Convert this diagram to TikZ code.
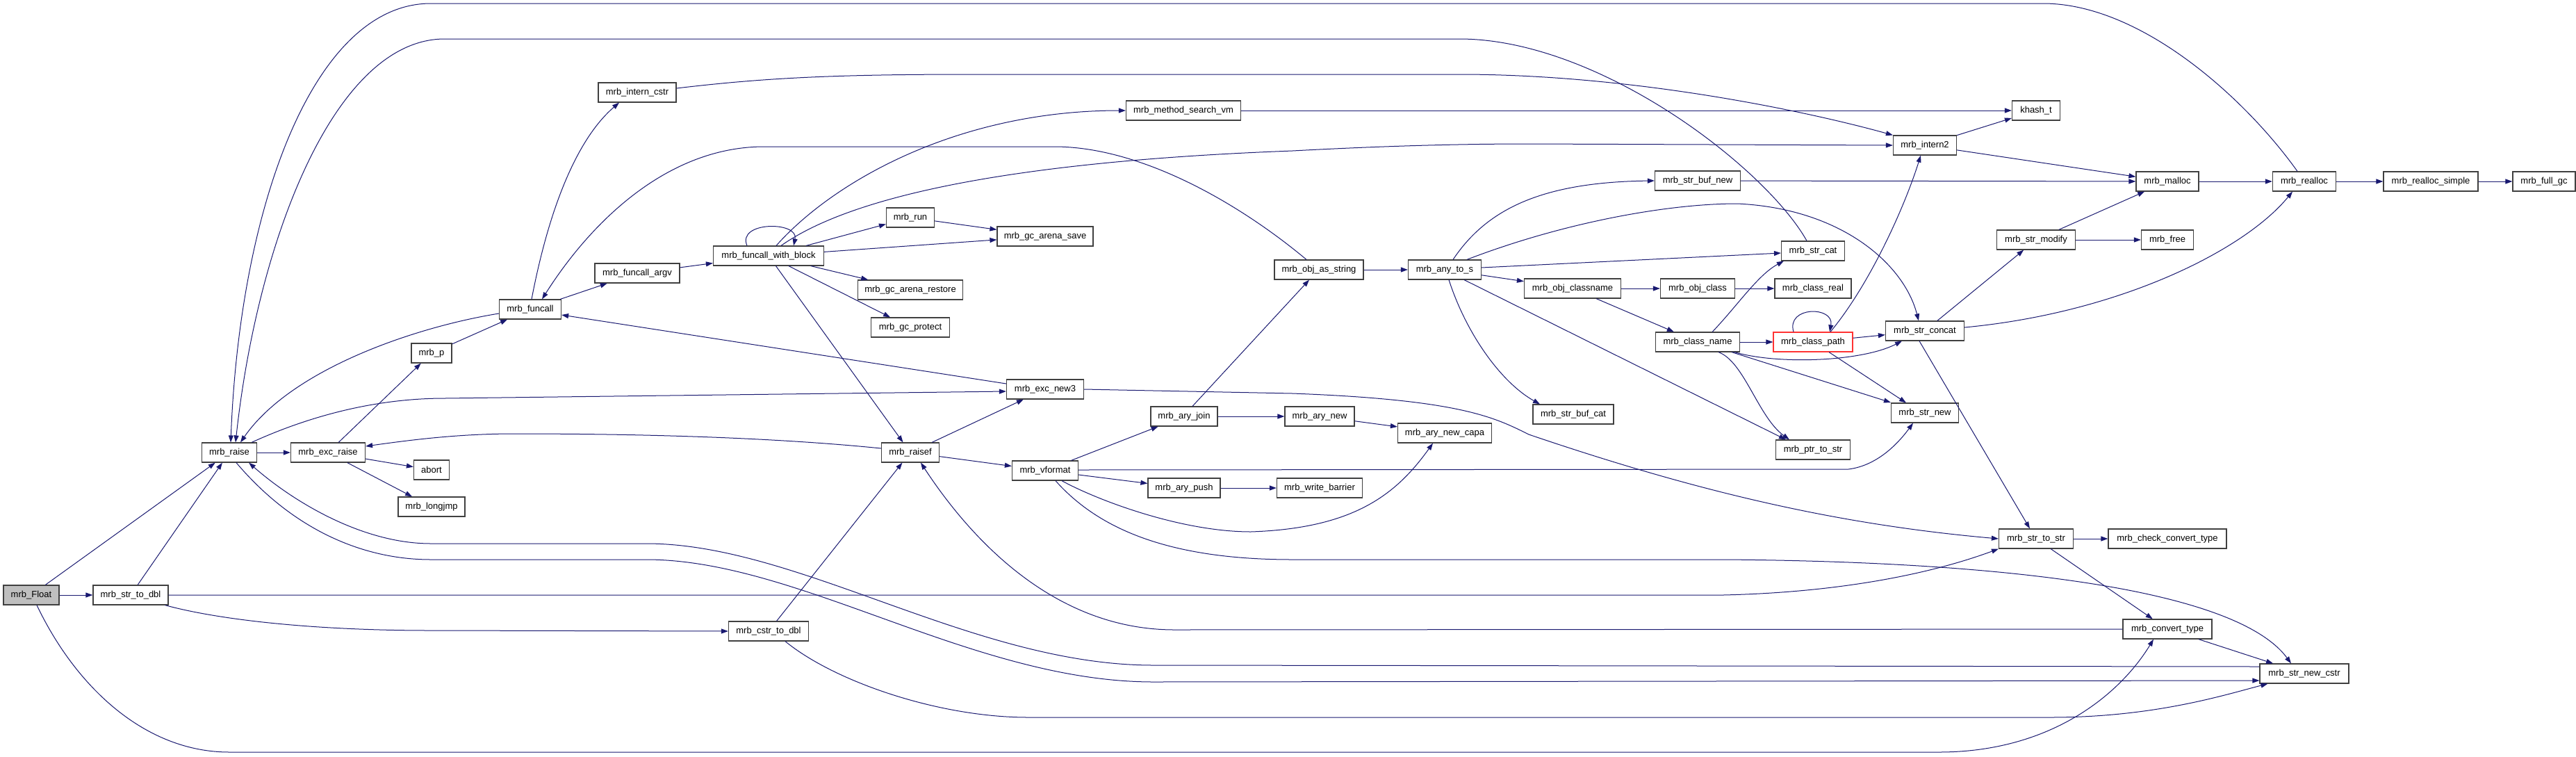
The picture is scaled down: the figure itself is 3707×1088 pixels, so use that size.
\documentclass[tikz,border=0pt]{standalone}
\usepackage{fontspec}
\newfontfamily\nf{Liberation Sans}
\usetikzlibrary{arrows.meta,calc}
\definecolor{eb}{HTML}{191970}
\definecolor{nb}{HTML}{404040}
\definecolor{gf}{HTML}{BFBFBF}
\definecolor{rb}{HTML}{FF3333}
\begin{document}
\begin{tikzpicture}[x=1pt,y=-1pt,
  fn/.style={draw=nb, line width=1.2pt, fill=white, minimum height=28pt, inner xsep=2pt, inner ysep=0pt, font=\nf\fontsize{13}{15}\selectfont, text=black},
  e/.style={draw=eb, line width=1pt, -{Triangle[length=10pt,width=7pt]}, fill=none},
  cur/.style={fill=gf},
  redb/.style={draw=rb}]
\useasboundingbox (0,0) rectangle (3707,1088);
% nodes
\node[fn,cur,minimum width=80pt] (Float) at (45,856) {mrb\_Float};
\node[fn,minimum width=108pt] (strtodbl) at (188,856) {mrb\_str\_to\_dbl};
\node[fn,minimum width=79pt] (raise) at (330,651) {mrb\_raise};
\node[fn,minimum width=107pt] (excraise) at (472,651) {mrb\_exc\_raise};
\node[fn,minimum width=51pt] (abort) at (621,676) {abort};
\node[fn,minimum width=96pt] (longjmp) at (621,729) {mrb\_longjmp};
\node[fn,minimum width=58pt] (p) at (621,508) {mrb\_p};
\node[fn,minimum width=89pt] (funcall) at (763,445) {mrb\_funcall};
\node[fn,minimum width=112pt] (interncstr) at (917,133) {mrb\_intern\_cstr};
\node[fn,minimum width=122pt] (funcallargv) at (917,393) {mrb\_funcall\_argv};
\node[fn,minimum width=159pt] (fwb) at (1106,368) {mrb\_funcall\_with\_block};
\node[fn,minimum width=115pt] (cstrtodbl) at (1106,908) {mrb\_cstr\_to\_dbl};
\node[fn,minimum width=69pt] (run) at (1310,313) {mrb\_run};
\node[fn,minimum width=151pt] (gcrestore) at (1310,417) {mrb\_gc\_arena\_restore};
\node[fn,minimum width=113pt] (gcprotect) at (1310,471) {mrb\_gc\_protect};
\node[fn,minimum width=83pt] (raisef) at (1310,651) {mrb\_raisef};
\node[fn,minimum width=138pt] (gcsave) at (1504,340) {mrb\_gc\_arena\_save};
\node[fn,minimum width=111pt] (excnew3) at (1504,560) {mrb\_exc\_new3};
\node[fn,minimum width=95pt] (vformat) at (1504,677) {mrb\_vformat};
\node[fn,minimum width=165pt] (msvm) at (1703,159) {mrb\_method\_search\_vm};
\node[fn,minimum width=96pt] (aryjoin) at (1704,599) {mrb\_ary\_join};
\node[fn,minimum width=104pt] (arypush) at (1704,702) {mrb\_ary\_push};
\node[fn,minimum width=128pt] (objasstring) at (1898,388) {mrb\_obj\_as\_string};
\node[fn,minimum width=100pt] (arynew) at (1899,599) {mrb\_ary\_new};
\node[fn,minimum width=123pt] (wb) at (1899,702) {mrb\_write\_barrier};
\node[fn,minimum width=105pt] (anytos) at (2079,388) {mrb\_any\_to\_s};
\node[fn,minimum width=135pt] (arynewcapa) at (2079,623) {mrb\_ary\_new\_capa};
\node[fn,minimum width=139pt] (objclassname) at (2263,415) {mrb\_obj\_classname};
\node[fn,minimum width=116pt] (strbufcat) at (2264,596) {mrb\_str\_buf\_cat};
\node[fn,minimum width=123pt] (strbufnew) at (2443,260) {mrb\_str\_buf\_new};
\node[fn,minimum width=107pt] (objclass) at (2443,415) {mrb\_obj\_class};
\node[fn,minimum width=121pt] (classname) at (2443,492) {mrb\_class\_name};
\node[fn,minimum width=91pt] (strcat) at (2609,361) {mrb\_str\_cat};
\node[fn,minimum width=110pt] (classreal) at (2609,415) {mrb\_class\_real};
\node[fn,redb,minimum width=114pt] (classpath) at (2609,492) {mrb\_class\_path};
\node[fn,minimum width=107pt] (ptrtostr) at (2609,647) {mrb\_ptr\_to\_str};
\node[fn,minimum width=91pt] (intern2) at (2770,209) {mrb\_intern2};
\node[fn,minimum width=113pt] (strconcat) at (2770,476) {mrb\_str\_concat};
\node[fn,minimum width=97pt] (strnew) at (2770,594) {mrb\_str\_new};
\node[fn,minimum width=69pt] (khash) at (2930,159) {khash\_t};
\node[fn,minimum width=113pt] (strmodify) at (2930,345) {mrb\_str\_modify};
\node[fn,minimum width=107pt] (strtostr) at (2930,775) {mrb\_str\_to\_str};
\node[fn,minimum width=90pt] (malloc) at (3119,261) {mrb\_malloc};
\node[fn,minimum width=75pt] (free) at (3119,345) {mrb\_free};
\node[fn,minimum width=170pt] (checkconv) at (3119,775) {mrb\_check\_convert\_type};
\node[fn,minimum width=128pt] (convtype) at (3119,905) {mrb\_convert\_type};
\node[fn,minimum width=91pt] (realloc) at (3316,261) {mrb\_realloc};
\node[fn,minimum width=128pt] (strnewcstr) at (3316,969) {mrb\_str\_new\_cstr};
\node[fn,minimum width=136pt] (reallocsimple) at (3498,261) {mrb\_realloc\_simple};
\node[fn,minimum width=90pt] (fullgc) at (3661,261) {mrb\_full\_gc};
% straight edges
\draw[e] (Float) -- (raise);
\draw[e] (Float) -- (strtodbl);
\draw[e] (strtodbl) -- (raise);
\draw[e] (raise) -- (excraise);
\draw[e] (excraise) -- (abort);
\draw[e] (excraise) -- (longjmp);
\draw[e] (excraise) -- (p);
\draw[e] (p) -- (funcall);
\draw[e] (funcall) -- (funcallargv);
\draw[e] (funcallargv) -- (fwb);
\draw[e] (fwb) -- (run);
\draw[e] (fwb) -- (gcsave);
\draw[e] (fwb) -- (gcrestore);
\draw[e] (fwb) -- (gcprotect);
\draw[e] (fwb) -- (raisef);
\draw[e] (run) -- (gcsave);
\draw[e] (cstrtodbl) -- (raisef);
\draw[e] (raisef) -- (excnew3);
\draw[e] (raisef) -- (vformat);
\draw[e] (vformat) -- (aryjoin);
\draw[e] (vformat) -- (arypush);
\draw[e] (aryjoin) -- (arynew);
\draw[e] (arypush) -- (wb);
\draw[e] (arynew) -- (arynewcapa);
\draw[e] (objasstring) -- (anytos);
\draw[e] (anytos) -- (objclassname);
\draw[e] (objclassname) -- (objclass);
\draw[e] (objclassname) -- (classname);
\draw[e] (objclass) -- (classreal);
\draw[e] (classname) -- (classpath);
\draw[e] (classpath) -- (strconcat);
\draw[e] (intern2) -- (khash);
\draw[e] (intern2) -- (malloc);
\draw[e] (strbufnew) -- (malloc);
\draw[e] (strmodify) -- (malloc);
\draw[e] (strmodify) -- (free);
\draw[e] (strconcat) -- (strmodify);
\draw[e] (malloc) -- (realloc);
\draw[e] (realloc) -- (reallocsimple);
\draw[e] (reallocsimple) -- (fullgc);
\draw[e] (strtostr) -- (checkconv);
\draw[e] (strtostr) -- (convtype);
\draw[e] (convtype) -- (strnewcstr);
\draw[e] (msvm) -- (khash);
\draw[e] ($(excnew3.west)+(0,-8)$) -- ($(funcall.east)+(0,8)$);
\draw[e] ($(aryjoin.north)+(12,0)$) -- ($(objasstring.south)+(-14,0)$);
\draw[e] ($(anytos.east)+(0,-3)$) -- ($(strcat.west)+(0,3)$);
\draw[e] ($(anytos.south)+(28,0)$) -- ($(ptrtostr.north west)+(15,0)$);
\draw[e] ($(classname.south east)+(-12,0)$) -- ($(strnew.west)+(0,-15)$);
\draw[e] ($(classpath.south)+(23,0)$) -- ($(strnew.north)+(-27,0)$);
\draw[e] ($(strconcat.south)+(-8,0)$) -- ($(strtostr.north)+(-9,0)$);
% curved edges
\draw[e] ($(Float.south)+(8,0)$) .. controls (110,990) and (210,1082) .. (330,1082) -- (2790,1082) .. controls (2950,1082) and (3050,1000) .. ($(convtype.south)+(-20,0)$);
\draw[e] (strtodbl.east) -- (2480,856) .. controls (2650,852) and (2780,825) .. (strtostr.south west);
\draw[e] ($(strtodbl.south east)+(-5,0)$) .. controls (320,893) and (460,907) .. (620,907) -- (cstrtodbl.west);
\draw[e] ($(raise.north east)+(-8,0)$) .. controls (420,610) and (520,573) .. (640,573) -- ($(excnew3.west)+(0,3)$);
\draw[e] ($(raise.south)+(10,0)$) .. controls (420,760) and (520,805) .. (620,805) -- (930,805) .. controls (1150,805) and (1400,981) .. (1660,981) -- ($(strnewcstr.west)+(0,10)$);
\draw[e] ($(strnewcstr.west)+(0,-10)$) -- (1660,957) .. controls (1400,957) and (1150,782) .. (930,782) -- (620,782) .. controls (520,782) and (420,720) .. ($(raise.south east)+(-12,0)$);
\draw[e] ($(funcall.west)+(0,6)$) .. controls (600,470) and (420,530) .. ($(raise.north)+(16,0)$);
\draw[e] ($(realloc.north)+(-10,0)$) .. controls (3230,140) and (3080,5) .. (2940,5) -- (620,5) .. controls (450,5) and (345,300) .. ($(raise.north)+(2,0)$);
\draw[e] ($(strcat.north)+(-9,0)$) .. controls (2540,240) and (2300,56) .. (2100,56) -- (640,56) .. controls (480,56) and (370,350) .. ($(raise.north)+(9,0)$);
\draw[e] ($(funcall.north)+(2,0)$) .. controls (790,300) and (830,200) .. ($(interncstr.south)+(-26,0)$);
\draw[e] ($(objasstring.north)+(-18,0)$) .. controls (1780,290) and (1640,211) .. (1517,211) -- (1100,211) .. controls (960,211) and (850,320) .. ($(funcall.north)+(17,0)$);
\draw[e] ($(fwb.north)+(11,0)$) .. controls (1200,260) and (1380,159) .. (msvm.west);
\draw[e] ($(fwb.north)+(18,0)$) .. controls (1200,300) and (1380,235) .. (1860,217) .. controls (1990,210) and (2100,207) .. (2200,207) -- (intern2.west);
\draw[e] ($(interncstr.east)+(0,-6)$) .. controls (1100,112) and (1200,107) .. (1400,107) -- (2100,107) .. controls (2350,107) and (2600,160) .. (intern2.north west);
\draw[e] (excnew3.east) -- (1860,566) .. controls (2100,575) and (2150,600) .. (2200,625) .. controls (2450,710) and (2650,755) .. (strtostr.west);
\draw[e] ($(raisef.west)+(0,-6)$) .. controls (1100,628) and (900,624) .. (740,624) .. controls (660,624) and (590,633) .. ($(excraise.east)+(0,-9)$);
\draw[e] ($(vformat.south)+(24,0)$) .. controls (1580,720) and (1700,765) .. (1800,765) .. controls (1950,760) and (2010,710) .. ($(arynewcapa.south)+(-17,0)$);
\draw[e] ($(vformat.south)+(15,0)$) .. controls (1580,760) and (1680,805) .. (1860,805) -- (2480,805) .. controls (2900,808) and (3220,850) .. ($(strnewcstr.north)+(-19,0)$);
\draw[e] ($(vformat.east)+(0,-1)$) -- (2660,675) .. controls (2700,670) and (2730,640) .. ($(strnew.south)+(-17,0)$);
\draw[e] ($(anytos.north)+(12,0)$) .. controls (2140,300) and (2220,262) .. (strbufnew.west);
\draw[e] ($(anytos.north)+(32,0)$) .. controls (2250,320) and (2400,293) .. (2500,293) .. controls (2650,300) and (2740,380) .. ($(strconcat.north)+(-9,0)$);
\draw[e] ($(anytos.south)+(6,0)$) .. controls (2110,480) and (2160,550) .. ($(strbufcat.north)+(-48,0)$);
\draw[e] ($(classname.south)+(30,0)$) .. controls (2510,520) and (2530,600) .. ($(ptrtostr.north west)+(20,0)$);
\draw[e] ($(classname.south east)+(-8,0)$) .. controls (2560,525) and (2680,520) .. ($(strconcat.south)+(-33,0)$);
\draw[e] ($(classname.north east)+(-40,0)$) .. controls (2500,440) and (2530,395) .. ($(strcat.south west)+(4,0)$);
\draw[e] ($(classpath.north)+(25,0)$) .. controls (2690,410) and (2740,300) .. ($(intern2.south)+(-6,0)$);
\draw[e] ($(classpath.north)+(-28,0)$) .. controls (2570,440) and (2640,440) .. ($(classpath.north)+(24,0)$);
\draw[e] ($(fwb.north)+(-31,0)$) .. controls (1060,318) and (1150,318) .. ($(fwb.north)+(36,0)$);
\draw[e] ($(strconcat.east)+(0,-5)$) .. controls (3050,450) and (3230,360) .. ($(realloc.south)+(-17,0)$);
\draw[e] (convtype.west) -- (1690,906) .. controls (1520,906) and (1400,780) .. ($(raisef.south)+(15,0)$);
\draw[e] ($(cstrtodbl.south)+(24,0)$) .. controls (1200,980) and (1350,1032) .. (1480,1032) -- (2950,1032) .. controls (3100,1032) and (3200,1000) .. ($(strnewcstr.south west)+(12,0)$);
\end{tikzpicture}
\end{document}
